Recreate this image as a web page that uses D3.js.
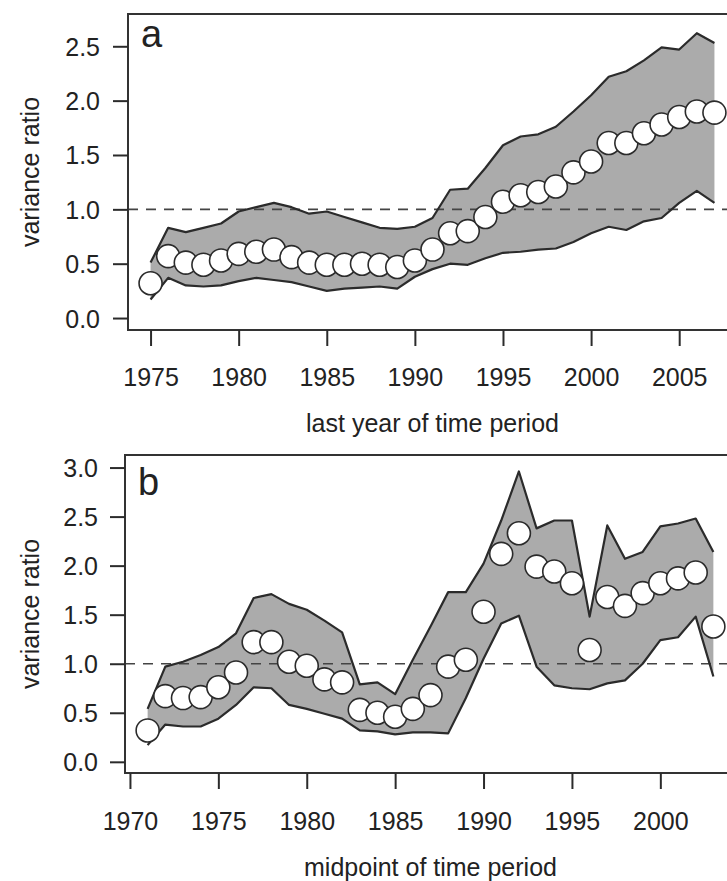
<!DOCTYPE html>
<html>
<head>
<meta charset="utf-8">
<script src="https://cdn.jsdelivr.net/npm/d3@7"></script>
<style>
  body { margin: 0; background: #fff; }
  svg { display: block; font-family: "Liberation Sans", Arial, sans-serif; }
</style>
</head>
<body>
<div id="chart"></div>
<script>
// panel a: last year of time period
const yearsA = d3.range(1975, 2008);
const ratioA = [0.32, 0.57, 0.51, 0.49, 0.53, 0.59, 0.61, 0.63, 0.56, 0.51, 0.49, 0.49, 0.50, 0.49, 0.47, 0.53,
  0.63, 0.78, 0.80, 0.93, 1.07, 1.13, 1.16, 1.21, 1.34, 1.44, 1.61, 1.61, 1.70, 1.78, 1.85, 1.90, 1.89];
const upperA = [0.51, 0.83, 0.79, 0.83, 0.87, 0.98, 1.02, 1.06, 1.02, 0.96, 0.98, 0.93, 0.88, 0.83, 0.82, 0.84,
  0.92, 1.18, 1.19, 1.38, 1.59, 1.67, 1.69, 1.76, 1.90, 2.05, 2.22, 2.27, 2.37, 2.49, 2.47, 2.62, 2.53];
const lowerA = [0.17, 0.37, 0.30, 0.29, 0.30, 0.34, 0.37, 0.35, 0.33, 0.29, 0.25, 0.27, 0.28, 0.29, 0.27, 0.38,
  0.45, 0.50, 0.49, 0.55, 0.60, 0.61, 0.63, 0.64, 0.70, 0.78, 0.84, 0.81, 0.89, 0.92, 1.06, 1.17, 1.06];

// panel b: midpoint of time period
const yearsB = d3.range(1971, 2004);
const ratioB = [0.32, 0.67, 0.65, 0.66, 0.76, 0.91, 1.22, 1.22, 1.02, 0.98, 0.84, 0.81, 0.53, 0.50, 0.46, 0.54,
  0.68, 0.97, 1.04, 1.53, 2.12, 2.33, 1.99, 1.94, 1.82, 1.14, 1.68, 1.59, 1.72, 1.82, 1.87, 1.93, 1.38];
const upperB = [0.54, 0.97, 1.02, 1.09, 1.17, 1.31, 1.67, 1.71, 1.61, 1.55, 1.44, 1.32, 0.79, 0.81, 0.69, 1.04,
  1.38, 1.73, 1.73, 2.02, 2.46, 2.96, 2.38, 2.46, 2.46, 1.48, 2.41, 2.07, 2.14, 2.40, 2.43, 2.48, 2.14];
const lowerB = [0.17, 0.38, 0.36, 0.36, 0.44, 0.58, 0.76, 0.75, 0.58, 0.54, 0.49, 0.44, 0.32, 0.31, 0.28, 0.30,
  0.30, 0.29, 0.65, 1.05, 1.41, 1.49, 0.97, 0.78, 0.75, 0.74, 0.80, 0.83, 1.00, 1.24, 1.27, 1.48, 0.87];

const ticksA = [1975, 1980, 1985, 1990, 1995, 2000, 2005];
const ticksB = [1970, 1975, 1980, 1985, 1990, 1995, 2000];
const yTicksA = [0, 0.5, 1, 1.5, 2, 2.5];
const yTicksB = [0, 0.5, 1, 1.5, 2, 2.5, 3];

const width = 727, height = 881;
const ink = '#2b2b2b';

const svg = d3.select('#chart')
  .append('svg')
  .attr('width', width)
  .attr('height', height);

function drawPanel(p) {
  const x = d3.scaleLinear().domain(p.xDomain).range([p.left, p.right]);
  const y = d3.scaleLinear().domain(p.yDomain).range([p.bottom, p.top]);
  const g = svg.append('g');
  const rows = p.years.map((yr, i) => ({ year: yr, v: p.ratio[i], lo: p.lower[i], hi: p.upper[i] }));

  // grey band between the bounds
  g.append('path')
    .datum(rows)
    .attr('fill', '#ababab')
    .attr('d', d3.area().x((d) => x(d.year)).y0((d) => y(d.lo)).y1((d) => y(d.hi)));

  // reference line at 1
  g.append('line')
    .attr('x1', p.left)
    .attr('x2', p.right)
    .attr('y1', y(1))
    .attr('y2', y(1))
    .attr('stroke', '#444')
    .attr('stroke-width', 1.6)
    .attr('stroke-dasharray', '10,8');

  ['hi', 'lo'].forEach((k) => {
    g.append('path')
      .datum(rows)
      .attr('fill', 'none')
      .attr('stroke', ink)
      .attr('stroke-width', 2.2)
      .attr('stroke-linejoin', 'round')
      .attr('d', d3.line().x((d) => x(d.year)).y((d) => y(d[k])));
  });

  g.selectAll('circle.pt')
    .data(rows)
    .enter()
    .append('circle')
    .attr('class', 'pt')
    .attr('cx', (d) => x(d.year))
    .attr('cy', (d) => y(d.v))
    .attr('r', 11.5)
    .attr('fill', '#fff')
    .attr('stroke', ink)
    .attr('stroke-width', 1.6);

  // frame
  g.append('rect')
    .attr('x', p.left)
    .attr('y', p.top)
    .attr('width', p.right - p.left)
    .attr('height', p.bottom - p.top)
    .attr('fill', 'none')
    .attr('stroke', '#333')
    .attr('stroke-width', 2);

  // x axis
  const xAxis = g.append('g')
    .attr('transform', `translate(0,${p.bottom})`)
    .call(d3.axisBottom(x).tickValues(p.xTicks).tickFormat(d3.format('d')).tickSize(16).tickSizeOuter(0));
  xAxis.select('.domain').remove();
  xAxis.selectAll('line').attr('stroke', ink).attr('stroke-width', 2);
  xAxis.selectAll('text')
    .attr('y', p.xLabelY - p.bottom)
    .attr('dy', null)
    .attr('fill', '#222')
    .attr('font-size', 25)
    .attr('font-family', '"Liberation Sans", Arial, sans-serif');

  // y axis
  const yAxis = g.append('g')
    .attr('transform', `translate(${p.left},0)`)
    .call(d3.axisLeft(y).tickValues(p.yTicks).tickFormat(d3.format('.1f')).tickSize(15).tickSizeOuter(0));
  yAxis.select('.domain').remove();
  yAxis.selectAll('line').attr('stroke', ink).attr('stroke-width', 2);
  yAxis.selectAll('text')
    .attr('x', p.yLabelX - p.left)
    .attr('dy', '0.36em')
    .attr('fill', '#222')
    .attr('font-size', 25)
    .attr('font-family', '"Liberation Sans", Arial, sans-serif');

  g.append('text')
    .attr('x', (p.left + p.right) / 2)
    .attr('y', p.titleY)
    .attr('text-anchor', 'middle')
    .attr('font-size', 25)
    .attr('fill', '#222')
    .text(p.xTitle);

  g.append('text')
    .attr('transform', `translate(39,${(p.top + p.bottom) / 2}) rotate(-90)`)
    .attr('text-anchor', 'middle')
    .attr('font-size', 25)
    .attr('fill', '#222')
    .text('variance ratio');

  g.append('text')
    .attr('x', p.left + 13)
    .attr('y', p.top + p.tagDy)
    .attr('font-size', 38)
    .attr('fill', '#222')
    .text(p.tag);
}

drawPanel({
  years: yearsA, ratio: ratioA, upper: upperA, lower: lowerA,
  xDomain: [1973.72, 2008.28], yDomain: [-0.11, 2.797],
  left: 128, right: 737, top: 14, bottom: 330,
  xTicks: ticksA, yTicks: yTicksA,
  xLabelY: 386, yLabelX: 100, titleY: 432,
  xTitle: 'last year of time period', tag: 'a', tagDy: 33
});

drawPanel({
  years: yearsB, ratio: ratioB, upper: upperB, lower: lowerB,
  xDomain: [1969.72, 2004.28], yDomain: [-0.114, 3.128],
  left: 125, right: 736, top: 455, bottom: 773,
  xTicks: ticksB, yTicks: yTicksB,
  xLabelY: 830, yLabelX: 98, titleY: 876,
  xTitle: 'midpoint of time period', tag: 'b', tagDy: 40
});
</script>
</body>
</html>
